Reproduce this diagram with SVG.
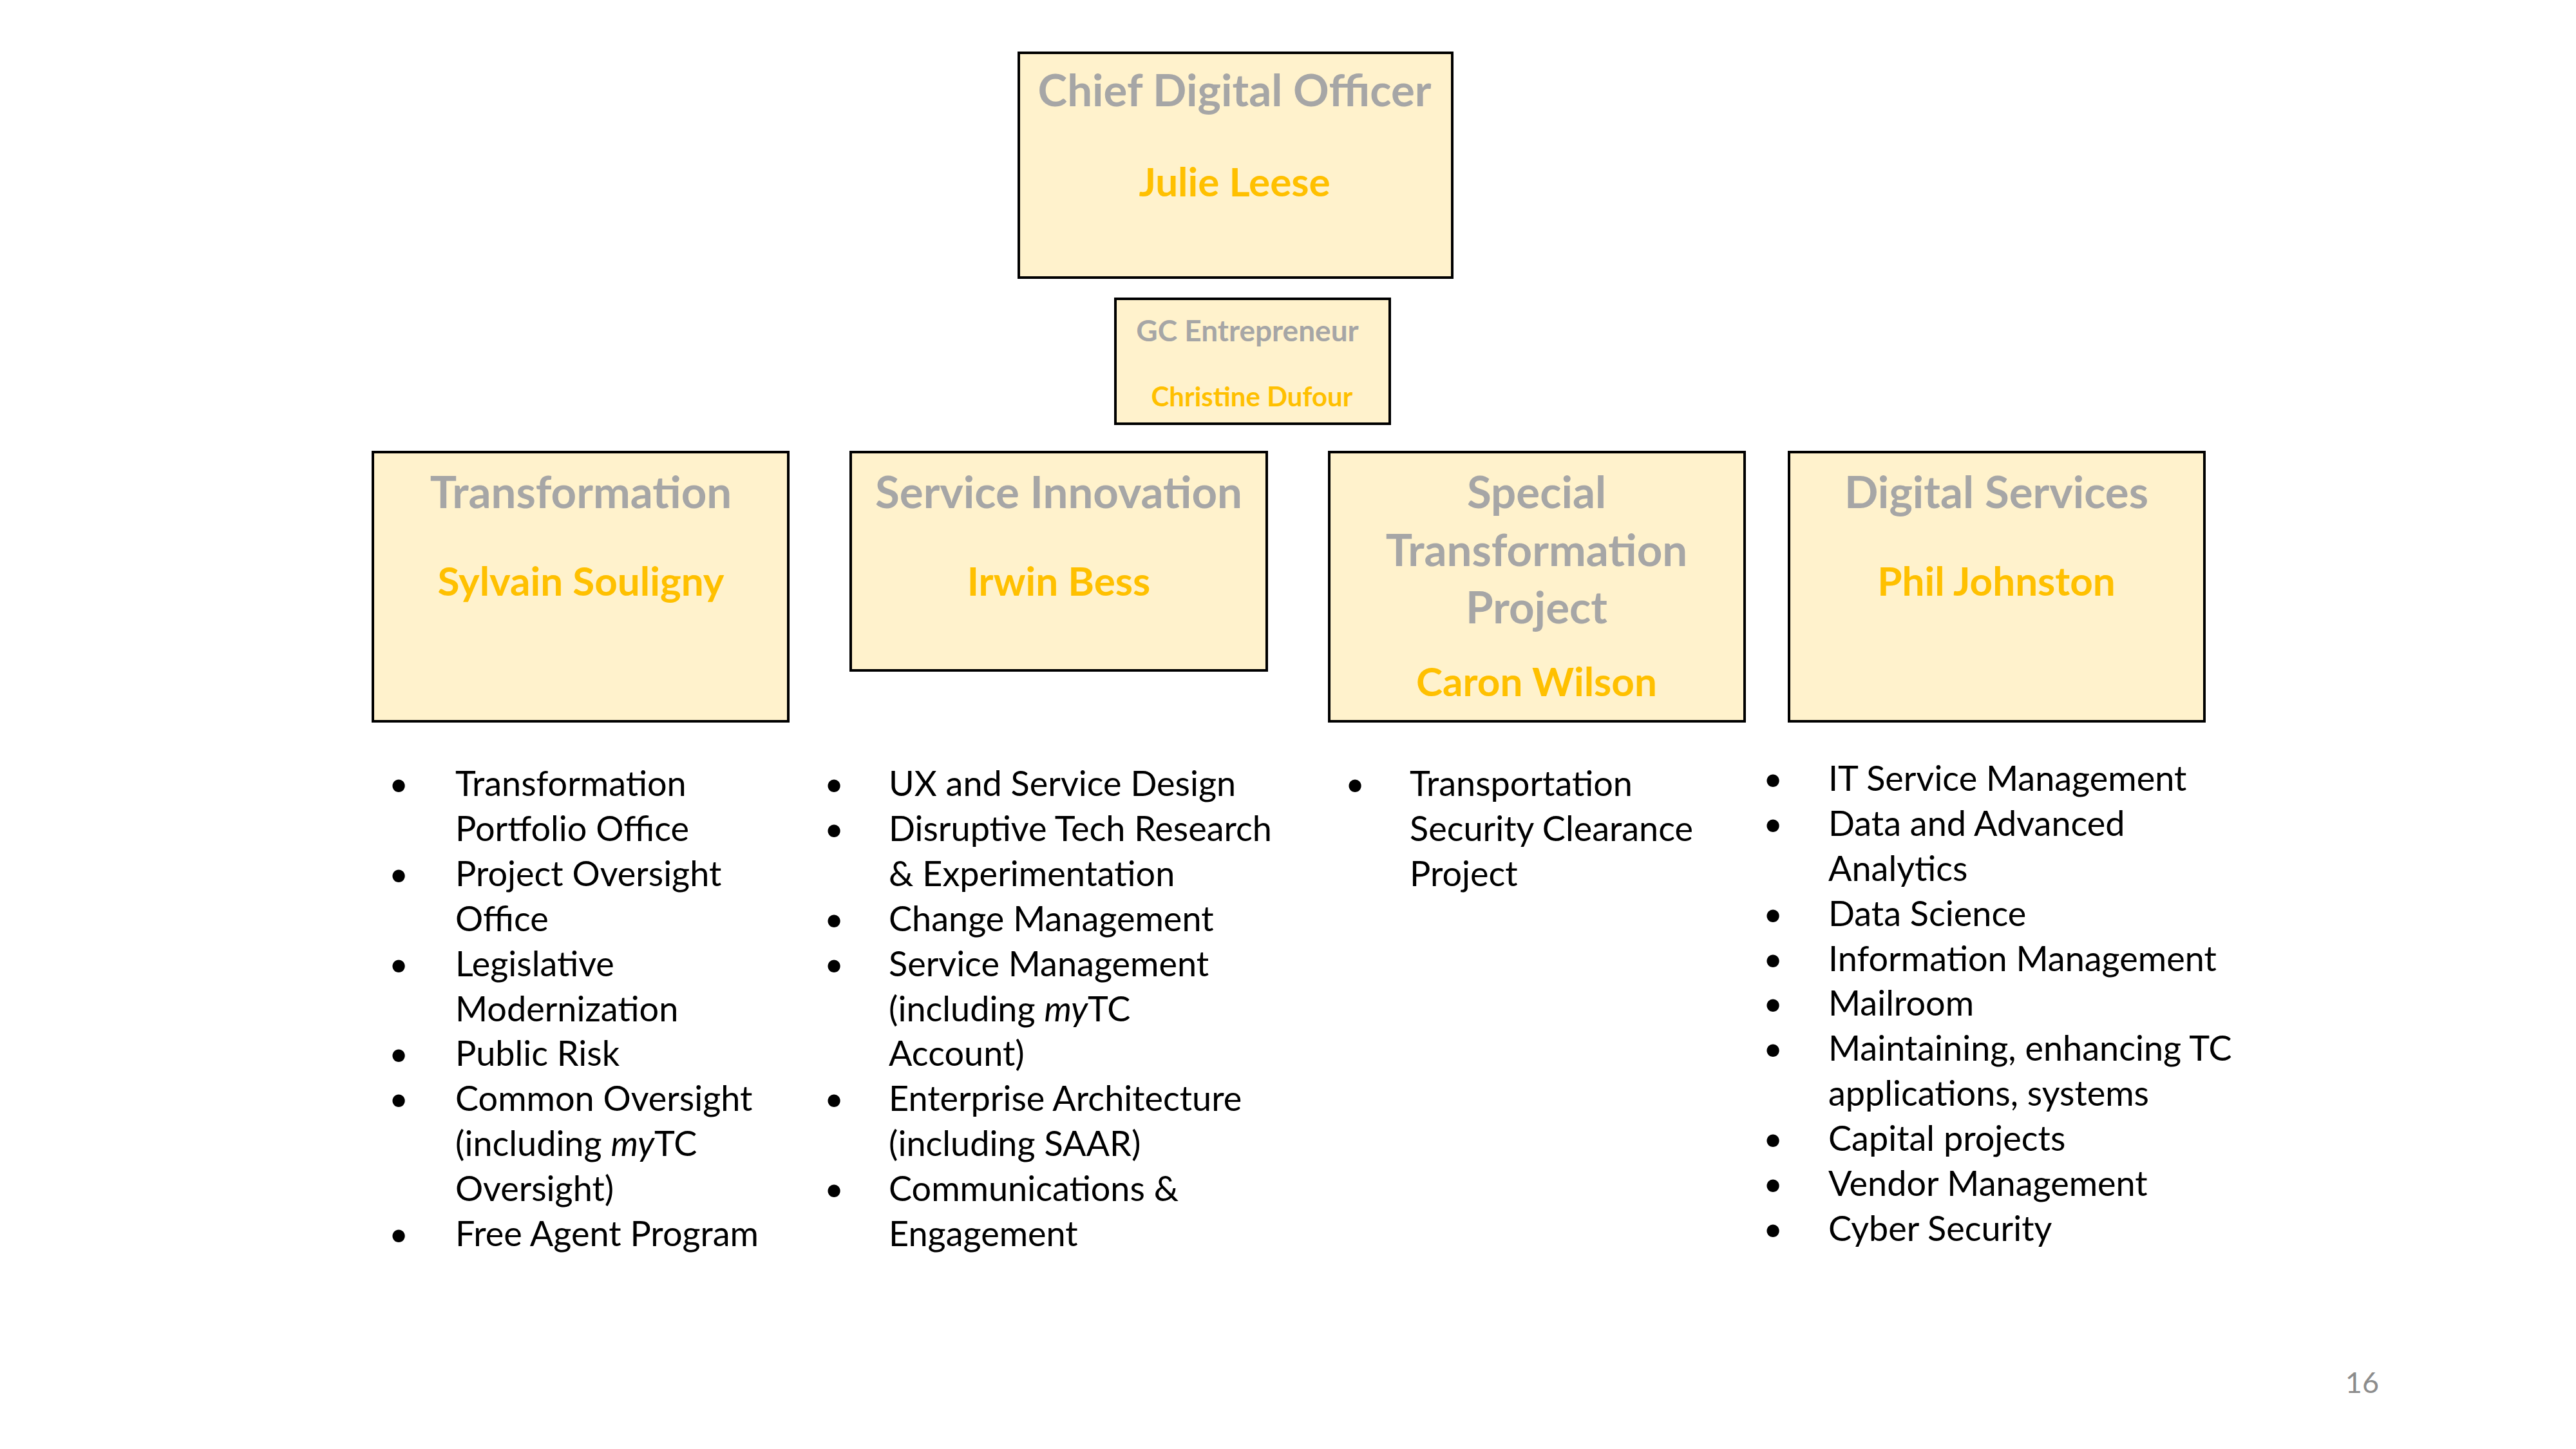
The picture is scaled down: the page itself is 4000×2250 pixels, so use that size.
<svg xmlns="http://www.w3.org/2000/svg" width="4000" height="2250" viewBox="0 0 4000 2250">
  <style>
    .box { fill: #FFF2CC; stroke: #000000; stroke-width: 4; }
    .ttl { font-family: Lato, "Liberation Sans", sans-serif; font-weight: 700; font-size: 69px; fill: #A6A6A6; text-anchor: middle; }
    .nm { font-family: Lato, "Liberation Sans", sans-serif; font-weight: 700; font-size: 62px; fill: #FFC000; text-anchor: middle; }
    .sttl { font-family: Lato, "Liberation Sans", sans-serif; font-weight: 700; font-size: 46px; fill: #A6A6A6; text-anchor: middle; }
    .snm { font-family: Lato, "Liberation Sans", sans-serif; font-weight: 700; font-size: 42px; fill: #FFC000; text-anchor: middle; }
    .li { font-family: Lato, "Liberation Sans", sans-serif; font-size: 54px; fill: #000000; }
    .bul { font-family: Lato, "Liberation Sans", sans-serif; font-size: 52px; fill: #000000; text-anchor: middle; }
    .pg { font-family: Lato, "Liberation Sans", sans-serif; font-size: 45px; fill: #8C8C8C; text-anchor: end; }
  </style>
  <rect x="0" y="0" width="4000" height="2250" fill="#FFFFFF"/>

  <g id="connectors"></g>

  <g id="cdo">
    <rect class="box" x="1582" y="82" width="673" height="349"/>
    <text class="ttl" x="1917" y="165">Chief Digital Officer</text>
    <text class="nm" x="1917" y="305">Julie Leese</text>
  </g>

  <g id="gc-entrepreneur">
    <rect class="box" x="1732" y="464" width="426" height="194"/>
    <text class="sttl" x="1937" y="530">GC Entrepreneur</text>
    <text class="snm" x="1944" y="631">Christine Dufour</text>
  </g>

  <g id="transformation">
    <rect class="box" x="579" y="702" width="645" height="418"/>
    <text class="ttl" x="902" y="789">Transformation</text>
    <text class="nm" x="902" y="925">Sylvain Souligny</text>
  </g>

  <g id="service-innovation">
    <rect class="box" x="1321" y="702" width="646" height="339"/>
    <text class="ttl" x="1644" y="789">Service Innovation</text>
    <text class="nm" x="1644" y="925">Irwin Bess</text>
  </g>

  <g id="special-transformation-project">
    <rect class="box" x="2064" y="702" width="645" height="418"/>
    <text class="ttl" x="2386" y="789">Special</text>
    <text class="ttl" x="2386" y="879">Transformation</text>
    <text class="ttl" x="2386" y="968">Project</text>
    <text class="nm" x="2386" y="1081">Caron Wilson</text>
  </g>

  <g id="digital-services">
    <rect class="box" x="2778" y="702" width="645" height="418"/>
    <text class="ttl" x="3100" y="789">Digital Services</text>
    <text class="nm" x="3100" y="925">Phil Johnston</text>
  </g>

  <g id="list-transformation">
    <text class="bul" x="619" y="1236">•</text>
    <text class="li" x="707" y="1236">Transformation</text>
    <text class="li" x="707" y="1306">Portfolio Office</text>
    <text class="bul" x="619" y="1376">•</text>
    <text class="li" x="707" y="1376">Project Oversight</text>
    <text class="li" x="707" y="1446">Office</text>
    <text class="bul" x="619" y="1516">•</text>
    <text class="li" x="707" y="1516">Legislative</text>
    <text class="li" x="707" y="1586">Modernization</text>
    <text class="bul" x="619" y="1655">•</text>
    <text class="li" x="707" y="1655">Public Risk</text>
    <text class="bul" x="619" y="1725">•</text>
    <text class="li" x="707" y="1725">Common Oversight</text>
    <text class="li" x="707" y="1795">(including <tspan font-style="italic">my</tspan>TC</text>
    <text class="li" x="707" y="1865">Oversight)</text>
    <text class="bul" x="619" y="1935">•</text>
    <text class="li" x="707" y="1935">Free Agent Program</text>
  </g>

  <g id="list-service-innovation">
    <text class="bul" x="1295" y="1236">•</text>
    <text class="li" x="1380" y="1236">UX and Service Design</text>
    <text class="bul" x="1295" y="1306">•</text>
    <text class="li" x="1380" y="1306">Disruptive Tech Research</text>
    <text class="li" x="1380" y="1376">&amp; Experimentation</text>
    <text class="bul" x="1295" y="1446">•</text>
    <text class="li" x="1380" y="1446">Change Management</text>
    <text class="bul" x="1295" y="1516">•</text>
    <text class="li" x="1380" y="1516">Service Management</text>
    <text class="li" x="1380" y="1586">(including <tspan font-style="italic">my</tspan>TC</text>
    <text class="li" x="1380" y="1655">Account)</text>
    <text class="bul" x="1295" y="1725">•</text>
    <text class="li" x="1380" y="1725">Enterprise Architecture</text>
    <text class="li" x="1380" y="1795">(including SAAR)</text>
    <text class="bul" x="1295" y="1865">•</text>
    <text class="li" x="1380" y="1865">Communications &amp;</text>
    <text class="li" x="1380" y="1935">Engagement</text>
  </g>

  <g id="list-special">
    <text class="bul" x="2104" y="1236">•</text>
    <text class="li" x="2189" y="1236">Transportation</text>
    <text class="li" x="2189" y="1306">Security Clearance</text>
    <text class="li" x="2189" y="1376">Project</text>
  </g>

  <g id="list-digital-services">
    <text class="bul" x="2753" y="1228">•</text>
    <text class="li" x="2839" y="1228">IT Service Management</text>
    <text class="bul" x="2753" y="1298">•</text>
    <text class="li" x="2839" y="1298">Data and Advanced</text>
    <text class="li" x="2839" y="1368">Analytics</text>
    <text class="bul" x="2753" y="1438">•</text>
    <text class="li" x="2839" y="1438">Data Science</text>
    <text class="bul" x="2753" y="1508">•</text>
    <text class="li" x="2839" y="1508">Information Management</text>
    <text class="bul" x="2753" y="1577">•</text>
    <text class="li" x="2839" y="1577">Mailroom</text>
    <text class="bul" x="2753" y="1647">•</text>
    <text class="li" x="2839" y="1647">Maintaining, enhancing TC</text>
    <text class="li" x="2839" y="1717">applications, systems</text>
    <text class="bul" x="2753" y="1787">•</text>
    <text class="li" x="2839" y="1787">Capital projects</text>
    <text class="bul" x="2753" y="1857">•</text>
    <text class="li" x="2839" y="1857">Vendor Management</text>
    <text class="bul" x="2753" y="1927">•</text>
    <text class="li" x="2839" y="1927">Cyber Security</text>
  </g>

  <text class="pg" x="3694" y="2163">16</text>
</svg>
